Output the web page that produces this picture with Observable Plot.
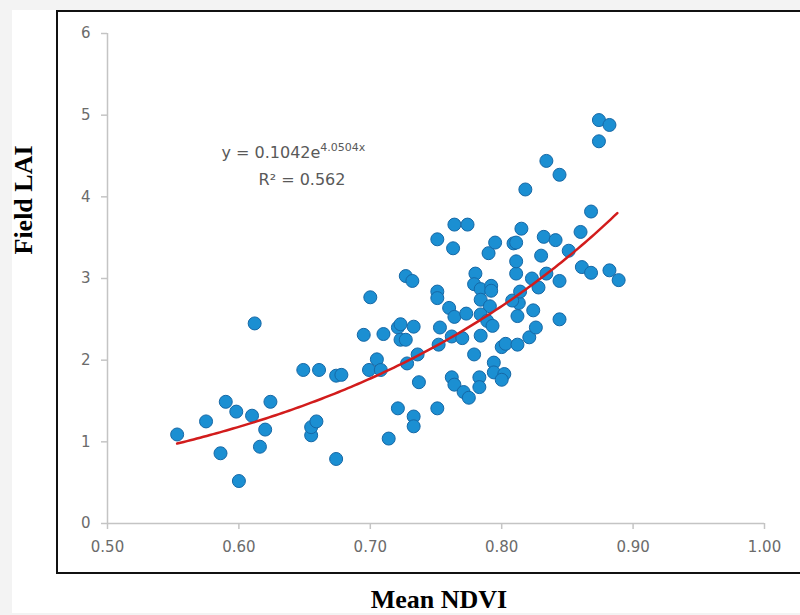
<!DOCTYPE html>
<html><head><meta charset="utf-8">
<script src="https://cdn.jsdelivr.net/npm/d3@7"></script>
<script src="https://cdn.jsdelivr.net/npm/@observablehq/plot@0.6"></script>
<style>
html,body{margin:0;padding:0;background:#f3f3f3;width:800px;height:615px;overflow:hidden;}
#sheet{position:absolute;left:12px;top:10px;width:788px;height:603px;background:#fff;}
#box{position:absolute;left:56px;top:10px;width:760px;height:564px;border:2px solid #111;box-sizing:border-box;}
#chart{position:absolute;left:0;top:0;}
</style></head><body>
<div id="sheet"></div><div id="box"></div><div id="chart"></div>
<script>
// Scatter data: Mean NDVI (x) vs Field LAI (y)
const ndvi = [0.553,0.575,0.586,0.590,0.598,0.600,0.610,0.612,0.616,0.620,
  0.624,0.649,0.661,0.655,0.655,0.659,0.674,0.674,0.678,0.695,
  0.699,0.705,0.708,0.710,0.700,0.714,0.721,0.723,0.733,0.723,
  0.727,0.721,0.733,0.733,0.728,0.736,0.737,0.751,0.752,0.753,
  0.727,0.732,0.751,0.751,0.751,0.763,0.764,0.774,0.760,0.764,
  0.773,0.762,0.770,0.762,0.764,0.771,0.775,0.779,0.780,0.779,
  0.784,0.792,0.792,0.784,0.791,0.784,0.789,0.793,0.784,0.783,
  0.783,0.794,0.794,0.802,0.800,0.800,0.803,0.812,0.821,0.826,
  0.824,0.812,0.813,0.808,0.814,0.844,0.823,0.828,0.834,0.844,
  0.811,0.811,0.830,0.851,0.790,0.795,0.809,0.811,0.815,0.832,
  0.841,0.860,0.868,0.861,0.868,0.882,0.889,0.818,0.834,0.844,
  0.874,0.882,0.874];
const lai = [1.09,1.25,0.86,1.49,1.37,0.52,1.32,2.45,0.94,1.15,
  1.49,1.88,1.88,1.08,1.18,1.25,0.79,1.81,1.82,2.31,
  1.88,2.01,1.88,2.32,2.77,1.04,2.40,2.44,2.41,2.25,
  2.25,1.41,1.31,1.19,1.96,2.07,1.73,1.41,2.19,2.40,
  3.03,2.97,2.84,2.76,3.48,3.37,3.66,3.66,2.64,2.53,
  2.57,2.29,2.27,1.79,1.70,1.61,1.54,2.07,3.06,2.93,
  2.87,2.91,2.85,2.74,2.66,2.56,2.48,2.42,2.30,1.79,
  1.67,1.97,1.85,1.83,1.76,2.16,2.20,2.19,2.28,2.40,
  2.61,2.54,2.70,2.73,2.84,2.50,3.00,2.89,3.06,2.97,
  3.06,3.21,3.28,3.34,3.31,3.44,3.43,3.44,3.61,3.51,
  3.47,3.57,3.82,3.14,3.07,3.10,2.98,4.09,4.44,4.27,
  4.94,4.88,4.68];

const xTicks = [0.5, 0.6, 0.7, 0.8, 0.9, 1.0];
const yTicks = [0, 1, 2, 3, 4, 5, 6];

// Exponential trendline as printed on the chart: y = 0.1042 e^(4.0504 x)
const fitA = 0.1042, fitB = 4.0504;
const fitRange = [0.553, 0.888];
const eqMain = "y = 0.1042e";
const eqSup = "4.0504x";
const r2Text = "R\u00B2 = 0.562";
const eqAnchor = {x: 0.662, y: 4.47};
const r2Anchor = {x: 0.648, y: 4.15};

const xLabel = "Mean NDVI";
const yLabel = "Field LAI";

const points = ndvi.map((x, i) => ({x, y: lai[i]}));
const fit = d3.range(fitRange[0], fitRange[1] + 1e-9, 0.0025).map(x => ({x, y: fitA * Math.exp(fitB * x)}));

const tickFont = {fontFamily: "DejaVu Sans", fontSize: 15, fill: "#6b6b6b"};
const eqFont = {fontFamily: "DejaVu Sans", fill: "#595959"};
const labelFont = {fontFamily: "Liberation Serif", fontWeight: "bold", fontSize: 26, fill: "#000"};

const chart = Plot.plot({
  width: 800, height: 615,
  marginLeft: 107, marginRight: 36, marginTop: 33, marginBottom: 92,
  style: {background: "transparent", overflow: "visible"},
  x: {domain: [0.5, 1.0]},
  y: {domain: [0, 6]},
  marks: [
    Plot.ruleX([0.5], {stroke: "#c4c4c4", strokeWidth: 1.5}),
    Plot.ruleY([0], {stroke: "#c4c4c4", strokeWidth: 1.5}),
    Plot.axisX({ticks: xTicks, tickFormat: d3.format(".2f"), tickSize: 6, tickPadding: 12,
      stroke: "#c4c4c4", strokeWidth: 1.5, label: null, ...tickFont}),
    Plot.axisY({ticks: yTicks, tickFormat: d3.format("d"), tickSize: 6, tickPadding: 11,
      stroke: "#c4c4c4", strokeWidth: 1.5, label: null, ...tickFont}),
    Plot.dot(points, {x: "x", y: "y", r: 6.5, fill: "#1b8fd2", stroke: "#1668a6", strokeWidth: 1}),
    Plot.line(fit, {x: "x", y: "y", stroke: "#d21c1c", strokeWidth: 2.5}),
    Plot.text([eqMain], {x: () => eqAnchor.x, y: () => eqAnchor.y, text: d => d, textAnchor: "end",
      lineAnchor: "bottom", fontSize: 16, ...eqFont}),
    Plot.text([eqSup], {x: () => eqAnchor.x, y: () => eqAnchor.y, text: d => d, textAnchor: "start",
      lineAnchor: "bottom", dy: -7, fontSize: 11, ...eqFont}),
    Plot.text([r2Text], {x: () => r2Anchor.x, y: () => r2Anchor.y, text: d => d, textAnchor: "middle",
      lineAnchor: "bottom", fontSize: 16, ...eqFont}),
    Plot.text([xLabel], {frameAnchor: "bottom", text: d => d, lineAnchor: "bottom", dx: 3, dy: 84, ...labelFont}),
    Plot.text([yLabel], {frameAnchor: "left", text: d => d, rotate: -90, lineAnchor: "top", dx: -94, dy: -24, ...labelFont})
  ]
});
document.getElementById("chart").appendChild(chart);
</script>
</body></html>
